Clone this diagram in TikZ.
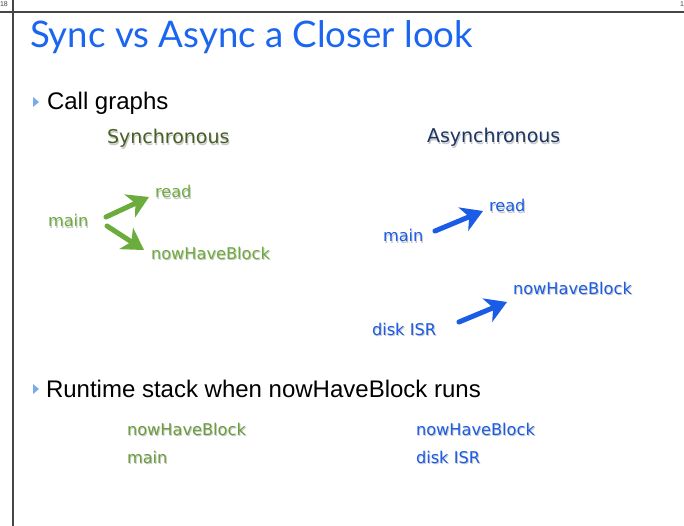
\documentclass[tikz,border=0pt]{standalone}
\usepackage{fontspec}
\setmainfont{Liberation Sans}
\newfontfamily\titlefont{Lato}
\newfontfamily\labelfont{DejaVu Sans}
\usetikzlibrary{calc}

\definecolor{titleblue}{RGB}{26,102,240}
\definecolor{syncgreen}{RGB}{108,172,60}
\definecolor{stackgreen}{RGB}{106,158,60}
\definecolor{syncdark}{RGB}{70,96,36}
\definecolor{asyncdark}{RGB}{28,54,100}
\definecolor{asyncblue}{RGB}{26,92,230}
\definecolor{bulletblue}{RGB}{120,172,232}
\definecolor{framegray}{RGB}{70,70,70}

\tikzset{
  txt/.style={anchor=base west, inner sep=0pt, outer sep=0pt},
  lbl/.style={txt, font=\labelfont\fontsize{16.2}{19}\selectfont},
  hdr/.style={txt, font=\labelfont\fontsize{19}{22}\selectfont},
  shade/.style={txt, text=black, opacity=0.22},
  bullettxt/.style={txt, font=\fontsize{24}{28}\selectfont, text=black},
  bulletmark/.style={fill=bulletblue, draw=none},
  shaft/.style={line width=5pt, line cap=round},
}

% label with a soft drop shadow
\newcommand{\shlabel}[5]{%
  \node[#1, shade] at ([xshift=1pt,yshift=-1.5pt]#2) {#4};
  \node[#1, text=#3] (#5) at (#2) {#4};
}

% thick call arrow with a wide swept-back head: colour, from, to
\newcommand{\callarrow}[3]{%
  \draw[shaft, #1] (#2) -- ($(#3)!12pt!(#2)$);
  \fill[#1] (#3) -- ($(#3)!25pt!31:(#2)$) -- ($(#3)!15pt!(#2)$)
            -- ($(#3)!25pt!-31:(#2)$) -- cycle;
}

\begin{document}
\begin{tikzpicture}[x=1pt, y=-1pt]
  \useasboundingbox (0,0) rectangle (684,526);
  \fill[white] (0,0) rectangle (684,526);

  % page frame
  \draw[framegray, line width=1.8pt] (0,12) -- (684,12);
  \draw[framegray, line width=1.8pt] (13,0) -- (13,526);
  \begin{scope}
    \clip (0,0) rectangle (684,9);
    \node[txt, font=\fontsize{7}{8}\selectfont, text=framegray] (pgl) at (0,7) {18};
    \node[txt, font=\fontsize{7}{8}\selectfont, text=framegray] (pgr) at (680,7) {1};
  \end{scope}

  % title
  \node[txt, font=\titlefont\fontsize{36.6}{40}\selectfont, text=titleblue] (title) at (30,48)
    {Sync vs Async a Closer look};

  % first bullet
  \fill[bulletmark] (33,97) -- (39,102) -- (33,107) -- cycle;
  \node[bullettxt] (b1) at (47,110) {Call graphs};

  % column headings
  \shlabel{hdr}{107,144}{syncdark}{Synchronous}{hsync}
  \shlabel{hdr}{427,143}{asyncdark}{Asynchronous}{hasync}

  % synchronous call graph
  \shlabel{lbl}{48,227}{syncgreen}{main}{smain}
  \shlabel{lbl}{155,198}{syncgreen}{read}{sread}
  \shlabel{lbl}{151,259}{syncgreen}{nowHaveBlock}{snhb}
  \coordinate (s1a) at (106,217);
  \coordinate (s1b) at (149,197);
  \coordinate (s2a) at (107,226);
  \coordinate (s2b) at (144,250);
  \callarrow{syncgreen}{s1a}{s1b}
  \callarrow{syncgreen}{s2a}{s2b}

  % asynchronous call graph
  \shlabel{lbl}{383,242}{asyncblue}{main}{amain}
  \shlabel{lbl}{489,212}{asyncblue}{read}{aread}
  \shlabel{lbl}{513,294}{asyncblue}{nowHaveBlock}{anhb}
  \shlabel{lbl}{372,335}{asyncblue}{disk ISR}{aisr}
  \coordinate (a1a) at (435,231);
  \coordinate (a1b) at (483,211);
  \coordinate (a2a) at (459,322);
  \coordinate (a2b) at (507,302);
  \callarrow{asyncblue}{a1a}{a1b}
  \callarrow{asyncblue}{a2a}{a2b}

  % second bullet
  \fill[bulletmark] (33,384) -- (39,389) -- (33,394) -- cycle;
  \node[bullettxt] (b2) at (46,397) {Runtime stack when nowHaveBlock runs};

  % runtime stacks
  \shlabel{lbl}{127,435}{stackgreen}{nowHaveBlock}{gtop}
  \shlabel{lbl}{127,463}{stackgreen}{main}{gbot}
  \shlabel{lbl}{416,435}{asyncblue}{nowHaveBlock}{btop}
  \shlabel{lbl}{416,463}{asyncblue}{disk ISR}{bbot}
\end{tikzpicture}
\end{document}
